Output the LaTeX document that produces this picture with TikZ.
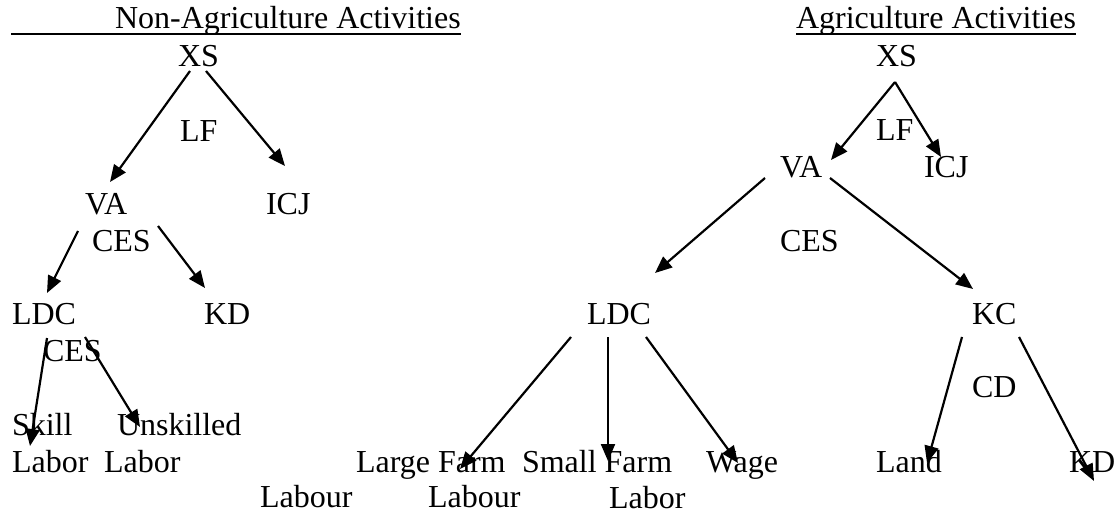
\documentclass[tikz,border=0pt]{standalone}
\usepackage{fontspec}
\setmainfont{Liberation Serif}
\usetikzlibrary{arrows.meta}
\begin{document}
\begin{tikzpicture}[x=0.5pt,y=-0.5pt,
  lbl/.style={anchor=base west,inner sep=0pt,outer sep=0pt,font=\fontsize{16pt}{19pt}\selectfont},
  arr/.style={line width=1.1pt,-{Triangle[length=8.5pt,width=7pt]}},
  ul/.style={line width=1pt}]
\useasboundingbox[fill=white] (0,0) rectangle (1117,518);
% ---- left tree: Non-Agriculture Activities
\node[lbl] (tnon) at (115,29) {Non-Agriculture Activities};
\coordinate (ulA) at (11,34);
\draw[ul] (ulA) -- (ulA -| tnon.east);
\node[lbl] (xs1) at (178,67) {XS};
\node[lbl] (lf1) at (180,142) {LF};
\node[lbl] (va1) at (85,214) {VA};
\node[lbl] (icj1) at (266,214) {ICJ};
\node[lbl] (ces1) at (92,251) {CES};
\node[lbl] (ldc1) at (12,324) {LDC};
\node[lbl] (kd1) at (204,324) {KD};
\node[lbl] (ces2) at (43,361) {CES};
\node[lbl] (skill) at (12,435) {Skill};
\node[lbl] (unsk) at (117,435) {Unskilled};
\node[lbl] (labor1) at (12,472) {Labor};
\node[lbl] (labor2) at (104,472) {Labor};
% arrow end points
\coordinate (a1s) at (190,71);  \coordinate (a1e) at (110,182);
\coordinate (a2s) at (206,71);  \coordinate (a2e) at (285,166);
\coordinate (a3s) at (78,231);  \coordinate (a3e) at (47,293);
\coordinate (a4s) at (158,226); \coordinate (a4e) at (205,288);
\coordinate (a5s) at (47,338);  \coordinate (a5e) at (30,446);
\coordinate (a6s) at (85,337);  \coordinate (a6e) at (140,427);
\draw[arr] (a1s) -- (a1e);
\draw[arr] (a2s) -- (a2e);
\draw[arr] (a3s) -- (a3e);
\draw[arr] (a4s) -- (a4e);
\draw[arr] (a5s) -- (a5e);
\draw[arr] (a6s) -- (a6e);
% ---- right tree: Agriculture Activities
\node[lbl] (tag) at (796,29) {Agriculture Activities};
\coordinate (ulB) at (796,34);
\draw[ul] (ulB) -- (ulB -| tag.east);
\node[lbl] (xs2) at (876,67) {XS};
\node[lbl] (lf2) at (876,141) {LF};
\node[lbl] (va2) at (780,177) {VA};
\node[lbl] (icj2) at (924,177) {ICJ};
\node[lbl] (ces3) at (780,251) {CES};
\node[lbl] (ldc2) at (587,324) {LDC};
\node[lbl] (kc) at (972,324) {KC};
\node[lbl] (cd) at (972,397) {CD};
\node[lbl] (large) at (356,472) {Large Farm};
\node[lbl] (labour1) at (260,507) {Labour};
\node[lbl] (labour2) at (428,507) {Labour};
\node[lbl] (small) at (522,472) {Small Farm};
\node[lbl] (labor3) at (609,508) {Labor};
\node[lbl] (wage) at (706,472) {Wage};
\node[lbl] (land) at (876,472) {Land};
\node[lbl] (kd2) at (1069,472) {KD};
\coordinate (b0) at (895,82);
\coordinate (b1e) at (831,160);
\coordinate (b2e) at (941,157);
\coordinate (b3s) at (765,178); \coordinate (b3e) at (655,273);
\coordinate (b4s) at (830,178); \coordinate (b4e) at (973,289);
\coordinate (b5s) at (571,337); \coordinate (b5e) at (460,469);
\coordinate (b6s) at (608,337); \coordinate (b6e) at (608,461);
\coordinate (b7s) at (646,337); \coordinate (b7e) at (738,463);
\coordinate (b8s) at (962,337); \coordinate (b8e) at (927,463);
\coordinate (b9s) at (1019,337); \coordinate (b9e) at (1094,481);
\draw[arr] (b0) -- (b1e);
\draw[arr] (b0) -- (b2e);
\draw[arr] (b3s) -- (b3e);
\draw[arr] (b4s) -- (b4e);
\draw[arr] (b5s) -- (b5e);
\draw[arr] (b6s) -- (b6e);
\draw[arr] (b7s) -- (b7e);
\draw[arr] (b8s) -- (b8e);
\draw[arr] (b9s) -- (b9e);
\end{tikzpicture}
\end{document}
